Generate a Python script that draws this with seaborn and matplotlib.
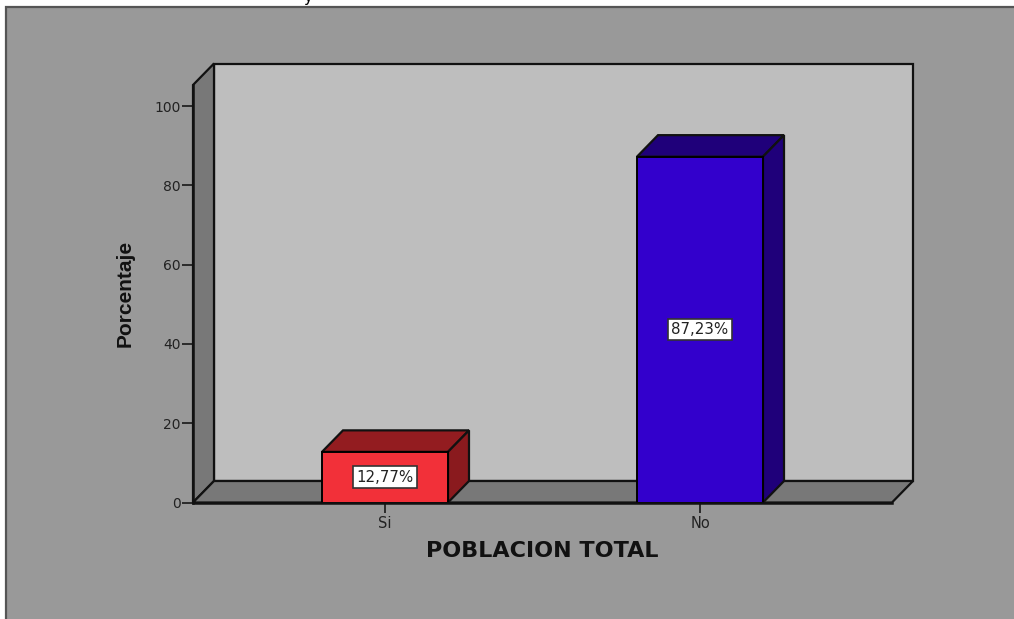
import pandas as pd
import seaborn as sns
import matplotlib.pyplot as plt
from matplotlib.patches import Polygon, Rectangle
from matplotlib.transforms import IdentityTransform

categorias = ['Si', 'No']
porcentajes = [12.77, 87.23]
etiquetas = ['12,77%', '87,23%']
yticks = [0, 20, 40, 60, 80, 100]
colores = ['#F23039', '#3300CC']
colores_top = ['#931C20', '#1F007A']
colores_lado = ['#8A1A1E', '#1F007A']

W, H = 1014, 619
DX, DY = 21, 21.5  # profundidad del efecto 3D, en pixeles

sns.set_theme(style='ticks', rc={'figure.facecolor': '#999999', 'axes.facecolor': 'none'})
plt.rcParams['font.family'] = ['DejaVu Sans']

fig = plt.figure(figsize=(W / 100, H / 100), dpi=100, facecolor='white')
ax = fig.add_axes([193 / W, 1 - 502.5 / H, 699 / W, 417.5 / H])

df = pd.DataFrame({'cat': categorias, 'pct': porcentajes})
sns.barplot(data=df, x='cat', y='pct', hue='cat', palette=colores, order=categorias, hue_order=categorias,
            width=0.4, saturation=1, legend=False, edgecolor='black', linewidth=1.4, ax=ax, zorder=5)

ax.set_xlim(-0.6095, 1.6095)
ax.set_ylim(0, 105.3)
ax.set_yticks(yticks)
ax.tick_params(axis='y', length=8, width=1.3, color='#222222', labelsize=10, labelcolor='#222222', pad=1)
ax.tick_params(axis='x', length=7, width=1.3, color='#222222', labelsize=10.5, labelcolor='#222222', pad=3)
sns.despine(ax=ax)
for s in ['left', 'bottom']:
    ax.spines[s].set_linewidth(1.8)
    ax.spines[s].set_color('#111111')
    ax.spines[s].set_zorder(6)
ax.set_xlabel('POBLACION TOTAL', fontsize=16, fontweight='bold', color='#111111', labelpad=7)
ax.set_ylabel('Porcentaje', fontsize=15, fontweight='bold', family='Liberation Sans', color='#111111', labelpad=14)


def cara(puntos, color, zorder):
    # puntos en pixeles de pantalla
    ax.add_patch(Polygon(puntos, closed=True, facecolor=color, edgecolor='#111111', linewidth=1.6,
                         transform=IdentityTransform(), clip_on=False, zorder=zorder))


# paredes y piso
x0, y0 = ax.transAxes.transform((0, 0))
x1, y1 = ax.transAxes.transform((1, 1))
cara([(x0 + DX, y0 + DY), (x1 + DX, y0 + DY), (x1 + DX, y1 + DY), (x0 + DX, y1 + DY)], '#BEBEBE', 1)
cara([(x0, y0), (x0 + DX, y0 + DY), (x0 + DX, y1 + DY), (x0, y1)], '#787878', 2)
cara([(x0, y0), (x1, y0), (x1 + DX, y0 + DY), (x0 + DX, y0 + DY)], '#787878', 2)

# caras superior y lateral de cada barra, a partir de las barras de seaborn
for bar, top, lado, valor, etiqueta in zip(ax.patches[:len(categorias)], colores_top, colores_lado, porcentajes, etiquetas):
    izq, abajo = ax.transData.transform((bar.get_x(), 0))
    der, arriba = ax.transData.transform((bar.get_x() + bar.get_width(), bar.get_height()))
    cara([(izq, arriba), (der, arriba), (der + DX, arriba + DY), (izq + DX, arriba + DY)], top, 4)
    cara([(der, abajo), (der + DX, abajo + DY), (der + DX, arriba + DY), (der, arriba)], lado, 4)
    ax.text(bar.get_x() + bar.get_width() / 2, valor / 2, etiqueta, ha='center', va='center', fontsize=10.8,
            color='#222222', zorder=8,
            bbox=dict(boxstyle='square,pad=0.22', facecolor='white', edgecolor='#333333', linewidth=1.2))

# fondo gris con marco
fig.add_artist(Rectangle((6 / W, -0.01), 1.1, 1 - 7 / H + 0.01, transform=fig.transFigure, facecolor='#999999',
                         edgecolor='#555555', linewidth=1.6, zorder=-1))

# resto del titulo cortado arriba
fig.text(308 / W, 1 - 2 / H, 'y', ha='center', va='baseline', fontsize=11, color='black')

fig.savefig('out.png', dpi=100)
